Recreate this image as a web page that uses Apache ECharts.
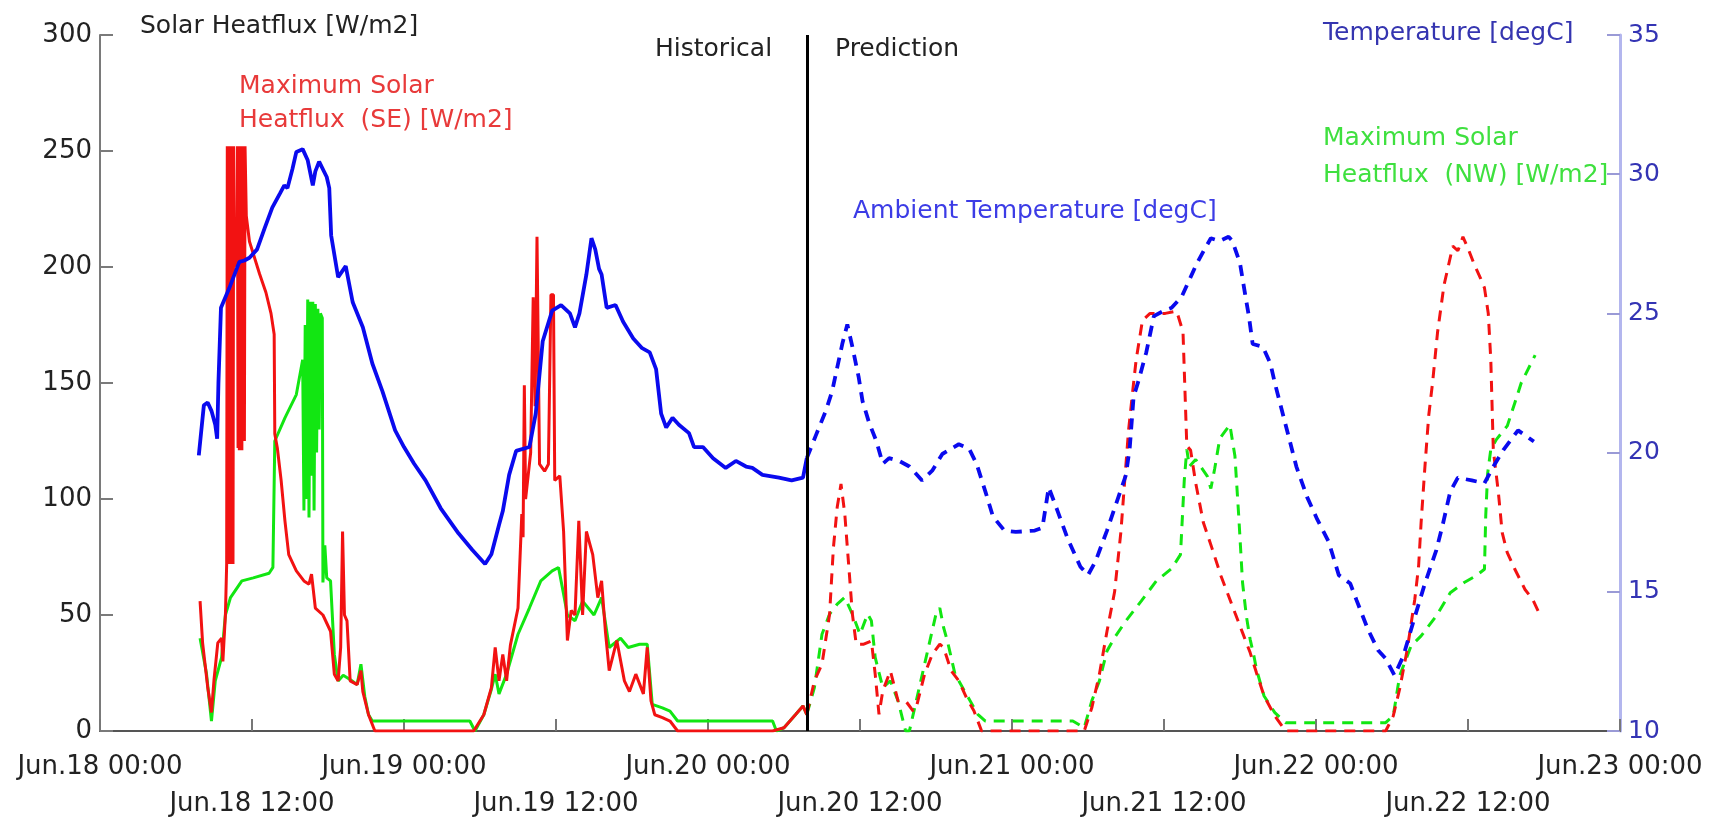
<!DOCTYPE html>
<html><head><meta charset="utf-8">
<script src="https://cdn.jsdelivr.net/npm/echarts/dist/echarts.min.js"></script>
<style>html,body{margin:0;padding:0;background:#fff}#chart{width:1713px;height:820px}</style>
</head><body><div id="chart"></div>
<script>
// x values: hours since Jun.18 00:00
const tickLabels = ['Jun.18 00:00','Jun.18 12:00','Jun.19 00:00','Jun.19 12:00','Jun.20 00:00','Jun.20 12:00','Jun.21 00:00','Jun.21 12:00','Jun.22 00:00','Jun.22 12:00','Jun.23 00:00'];
const tickStepHours = 12;
const boundaryHour = [55.8];

const tempHistorical = [[7.8,19.9],[8.2,21.7],[8.5,21.8],[8.8,21.5],[9.1,21.0],[9.25,20.5],[9.35,22.5],[9.55,25.2],[10.2,25.9],[11.0,26.85],[11.4,26.9],[11.8,27.0],[12.4,27.3],[13.0,28.06],[13.6,28.8],[14.2,29.3],[14.55,29.6],[14.8,29.5],[15.2,30.2],[15.5,30.8],[16.0,30.9],[16.4,30.5],[16.8,29.6],[17.0,30.1],[17.3,30.45],[17.9,29.9],[18.1,29.5],[18.25,27.8],[18.8,26.3],[19.1,26.5],[19.4,26.7],[19.95,25.4],[20.75,24.5],[21.5,23.2],[22.3,22.2],[23.3,20.8],[24.0,20.2],[24.8,19.6],[25.7,19.0],[26.9,18.0],[28.3,17.1],[29.4,16.5],[30.4,16.0],[30.9,16.35],[31.5,17.4],[31.8,17.9],[32.3,19.2],[32.85,20.06],[33.9,20.2],[34.4,21.4],[34.95,24.0],[35.7,25.1],[36.4,25.3],[37.1,25.0],[37.5,24.5],[37.85,25.0],[38.4,26.4],[38.8,27.7],[39.1,27.3],[39.4,26.6],[39.6,26.4],[40.0,25.2],[40.7,25.3],[41.3,24.7],[42.1,24.1],[42.8,23.75],[43.4,23.6],[43.9,23.0],[44.3,21.4],[44.7,20.9],[45.2,21.25],[45.7,21.0],[46.5,20.7],[46.9,20.2],[47.6,20.2],[48.4,19.8],[49.4,19.45],[50.2,19.7],[51.0,19.5],[51.5,19.45],[52.3,19.2],[53.6,19.1],[54.6,19.0],[55.5,19.1],[55.8,19.8]];

const tempPrediction = [[55.8,19.8],[56.5,20.6],[57.3,21.5],[57.8,22.2],[58.2,23.05],[58.6,23.9],[59.0,24.6],[59.4,23.8],[59.9,22.7],[60.2,21.85],[60.7,21.1],[61.3,20.4],[61.8,19.6],[62.3,19.8],[63.1,19.7],[63.9,19.5],[64.9,19.0],[65.7,19.35],[66.5,19.95],[67.8,20.3],[68.6,20.15],[69.2,19.6],[69.9,18.6],[70.5,17.7],[71.4,17.2],[72.3,17.15],[73.8,17.2],[74.4,17.3],[74.9,18.75],[75.6,17.9],[76.4,16.9],[77.4,15.9],[78.0,15.6],[78.6,16.1],[79.5,17.2],[80.1,18.0],[81.0,19.2],[81.3,20.2],[81.6,22.0],[82.0,22.6],[82.6,23.6],[83.2,24.9],[84.0,25.1],[84.6,25.2],[85.4,25.6],[86.0,26.2],[86.6,26.8],[87.2,27.3],[87.7,27.7],[88.4,27.6],[89.1,27.75],[89.4,27.6],[90.0,26.8],[90.4,25.7],[90.7,24.9],[91.0,23.9],[91.8,23.8],[92.4,23.2],[92.75,22.5],[93.6,21.0],[94.45,19.5],[95.3,18.4],[96.1,17.6],[97.0,16.8],[97.8,15.6],[98.7,15.3],[99.2,14.7],[100.1,13.65],[100.9,12.9],[101.5,12.6],[102.2,12.0],[102.9,12.7],[103.8,14.1],[104.6,15.3],[105.5,16.5],[106.0,17.4],[106.6,18.6],[107.2,19.1],[108.3,19.0],[109.3,18.9],[110.0,19.5],[110.8,20.1],[111.95,20.8],[113.2,20.4]];

const heatSEHistorical = [[7.9,56],[8.1,38],[8.5,19],[8.8,8],[9.0,22],[9.3,38],[9.6,40],[9.7,30],[9.9,50],[10.0,72],[10.05,252],[10.1,72],[10.15,252],[10.2,75],[10.25,252],[10.3,72],[10.35,252],[10.4,78],[10.45,252],[10.5,72],[10.55,252],[10.6,200],[10.8,205],[10.85,252],[10.9,122],[10.95,252],[11.0,121],[11.05,252],[11.1,125],[11.15,252],[11.2,121],[11.25,252],[11.3,130],[11.35,252],[11.4,125],[11.45,252],[11.55,222],[11.8,211],[12.6,197],[13.1,189],[13.5,180],[13.75,171],[13.8,128],[14.0,122],[14.3,108],[14.6,90.6],[14.9,76],[15.5,69],[16.1,64.7],[16.5,63.3],[16.7,67.6],[17.0,53],[17.6,50],[18.2,43],[18.5,24.5],[18.8,21.6],[19.0,36],[19.15,86],[19.3,50],[19.5,47.5],[19.75,21.6],[20.3,20],[20.6,26],[20.75,17],[21.2,7],[21.7,0],[29.5,0],[30.3,7],[30.9,18.7],[31.2,36],[31.5,21.6],[31.8,33],[32.1,21.6],[32.4,37],[33.0,53],[33.3,93.5],[33.4,83.5],[33.5,149],[33.6,100],[34.0,120],[34.2,187],[34.35,140],[34.5,213],[34.65,213],[34.7,115],[35.1,112],[35.4,115],[35.6,188],[35.8,188],[35.9,108],[36.3,110],[36.6,86],[36.9,39],[37.2,52],[37.5,50],[37.8,90.6],[38.1,50],[38.4,86],[38.9,76],[39.3,57.5],[39.6,64.7],[39.9,43],[40.2,26],[40.8,39],[41.4,21.6],[41.8,17],[42.3,24.5],[42.9,16],[43.2,36],[43.5,13],[43.8,7],[44.4,5.8],[45.0,4.3],[45.6,0],[53.1,0],[54.0,1.4],[54.9,7],[55.5,10.8],[55.8,7]];

const heatSEPrediction = [[55.8,7.2],[56.4,21.6],[57.0,28.8],[57.6,50.4],[57.9,79],[58.2,96.4],[58.5,106.5],[58.8,93.5],[59.1,72],[59.4,50.4],[59.7,37.4],[60.3,37.4],[60.9,38.8],[61.2,24.5],[61.5,7.2],[61.8,17.3],[62.4,25.9],[63.0,13],[63.6,13],[64.2,8.6],[64.5,11.5],[65.1,24.5],[65.7,33],[66.3,37.4],[66.6,36],[67.2,25.9],[67.8,21.6],[68.4,14.4],[69.0,8.6],[69.6,0],[77.7,0],[78.3,10],[78.9,24.5],[79.5,43],[80.1,60],[80.6,86],[80.9,108],[81.2,129.5],[81.5,145],[81.8,160],[82.3,177],[82.9,180],[84.1,180],[85.0,181],[85.5,172],[85.8,123],[86.1,121],[86.5,107],[87.1,90],[87.8,78.6],[88.5,66.8],[89.1,58.2],[89.6,51],[90.2,42.4],[90.8,33.8],[91.3,25.1],[91.9,15.1],[92.75,6.5],[93.6,0],[101.5,0],[102.1,6.5],[102.6,18],[103.2,35],[103.8,56.8],[104.1,71],[104.3,90],[104.6,114],[104.9,136],[105.2,150],[105.6,172],[106.1,192],[106.8,209],[107.2,207],[107.6,213],[108.0,208],[108.5,201],[109.0,195],[109.3,191],[109.6,180],[109.8,160],[110.0,121],[110.4,102.7],[110.7,85.5],[111.1,76.9],[111.7,69.7],[112.5,61],[113.1,56.8],[113.6,51]];

const heatNWHistorical = [[7.9,40],[8.4,25],[8.8,4.3],[9.1,21.6],[9.6,31.7],[9.9,50],[10.3,57.5],[11.2,64.7],[12.1,66],[13.35,68],[13.65,70.5],[13.8,125],[14.6,135],[15.5,145],[16.0,160],[16.1,95],[16.2,175],[16.3,100],[16.4,186],[16.5,92],[16.6,185],[16.7,110],[16.8,185],[16.9,95],[17.0,184],[17.1,120],[17.2,182],[17.3,130],[17.4,180],[17.55,178],[17.6,64],[17.75,80],[17.9,66],[18.2,64.7],[18.5,33],[18.8,21.6],[19.2,24],[19.8,22],[20.3,20],[20.6,28.8],[20.9,15],[21.2,7],[21.5,4.3],[29.2,4.3],[29.6,0],[30.3,7],[30.9,18],[31.2,24.5],[31.5,16],[32.1,24.5],[33.0,41.7],[33.9,53],[34.8,64.7],[35.7,69],[36.2,70.5],[36.6,59],[36.9,50],[37.5,47.5],[38.1,56],[39.0,50],[39.6,57.5],[40.2,36],[41.1,40],[41.7,36],[42.6,37.4],[43.2,37.4],[43.6,11.5],[44.4,10],[45.0,8.6],[45.6,4.3],[53.1,4.3],[53.4,0],[54.0,1.4],[54.9,7],[55.5,10.8],[55.8,7]];

const heatNWPrediction = [[55.8,7.2],[56.4,18.7],[57.0,41.7],[57.6,50.4],[58.2,54.7],[58.8,57.6],[59.4,50.4],[60.0,41.7],[60.6,50.4],[60.9,47.5],[61.2,31.7],[61.8,18.7],[62.4,21.6],[63.0,13],[63.6,0],[63.9,0],[64.8,21.6],[65.4,36],[66.0,50.4],[66.3,53],[66.6,44.6],[66.9,38.8],[67.5,24.5],[68.4,15.8],[69.3,7.2],[69.9,4.3],[76.8,4.3],[77.7,1.4],[78.3,13],[78.9,21.6],[79.5,34.5],[80.1,40.3],[81.0,47.5],[82.2,56],[83.4,64.7],[84.6,70],[85.3,76],[85.6,108],[85.8,121.4],[86.0,114],[86.5,117],[87.4,110],[87.7,104.5],[88.0,113],[88.4,126],[88.8,129],[89.2,132],[89.6,118.5],[89.9,92.7],[90.2,64],[90.5,49.6],[90.8,39.5],[91.1,32.3],[91.3,26.6],[91.9,15.1],[92.75,7.9],[93.6,3.6],[101.5,3.6],[102.1,6.5],[102.6,23.7],[103.5,36.6],[104.3,41],[105.5,49.6],[106.6,59.6],[107.7,64],[108.6,66.8],[109.3,69.7],[109.4,92.7],[109.55,111],[109.8,121.4],[110.25,125.7],[111.1,131.5],[111.7,141.5],[112.2,150],[113.3,162]];

const FONT = '"DejaVu Sans", sans-serif';
const BLUE = '#0a0aee', RED = '#f21212', GREEN = '#12e612';
const DASH = [11, 8];

const chart = echarts.init(document.getElementById('chart'), null, {renderer: 'canvas'});
const xBase = {
  type: 'value', min: 0, max: tickStepHours * (tickLabels.length - 1), interval: tickStepHours,
  position: 'bottom', splitLine: {show: false}
};
function lineSeries(data, color, width, dashed, yIdx, extra) {
  return Object.assign({
    type: 'line', data: data, yAxisIndex: yIdx, xAxisIndex: 0,
    showSymbol: false, symbol: 'none', animation: false,
    lineStyle: {color: color, width: width, type: dashed ? DASH : 'solid'},
    itemStyle: {color: color}
  }, extra || {});
}
chart.setOption({
  animation: false,
  backgroundColor: '#ffffff',
  grid: {left: 100, right: 93, top: 35, bottom: 89, containLabel: false},
  xAxis: [
    Object.assign({}, xBase, {
      axisLine: {show: true, onZero: false, lineStyle: {color: '#555', width: 2}},
      axisTick: {show: true, inside: true, length: 12, lineStyle: {color: '#777', width: 2}},
      axisLabel: {show: true, showMinLabel: true, showMaxLabel: true, margin: 23, fontSize: 26, fontFamily: FONT, color: '#222',
        formatter: v => { const i = Math.round(v / tickStepHours); return i % 2 === 0 ? tickLabels[i] : ''; }}
    }),
    Object.assign({}, xBase, {
      axisLine: {show: false, onZero: false}, axisTick: {show: false},
      axisLabel: {show: true, showMinLabel: true, showMaxLabel: true, margin: 60, fontSize: 26, fontFamily: FONT, color: '#222',
        formatter: v => { const i = Math.round(v / tickStepHours); return i % 2 === 1 ? tickLabels[i] : ''; }}
    })
  ],
  yAxis: [
    {type: 'value', position: 'left', min: 0, max: 300, interval: 50,
     axisLine: {show: true, onZero: false, lineStyle: {color: '#7a7a7a', width: 2}},
     axisTick: {show: true, inside: true, length: 13, lineStyle: {color: '#7a7a7a', width: 2}},
     axisLabel: {margin: 8, fontSize: 26, fontFamily: FONT, color: '#222'},
     splitLine: {show: false}},
    {type: 'value', position: 'right', min: 10, max: 35, interval: 5,
     axisLine: {show: true, onZero: false, lineStyle: {color: '#b3b6ee', width: 3}},
     axisTick: {show: true, inside: true, length: 13, lineStyle: {color: '#9a9ad6', width: 2}},
     axisLabel: {margin: 8, fontSize: 25, fontFamily: FONT, color: '#3434b4'},
     splitLine: {show: false}}
  ],
  series: [
    lineSeries(heatNWHistorical, GREEN, 3, false, 0),
    lineSeries(heatNWPrediction, GREEN, 3, true, 0),
    lineSeries(heatSEHistorical, RED, 3, false, 0, {
      markLine: {silent: true, symbol: 'none', animation: false, label: {show: false},
        lineStyle: {color: '#000', width: 3, type: 'solid'},
        data: boundaryHour.map(h => ({xAxis: h}))}
    }),
    lineSeries(heatSEPrediction, RED, 3, true, 0),
    lineSeries(tempHistorical, BLUE, 3.8, false, 1),
    lineSeries(tempPrediction, BLUE, 3.8, true, 1)
  ],
  graphic: [
    {type: 'text', left: 140, top: 14, style: {text: 'Solar Heatflux [W/m2]', font: '25px ' + FONT, fill: '#222'}},
    {type: 'text', left: 239, top: 69, style: {text: 'Maximum Solar\nHeatflux  (SE) [W/m2]', font: '25px ' + FONT, fill: '#e83a3a', lineHeight: 34}},
    {type: 'text', left: 655, top: 37, style: {text: 'Historical', font: '25px ' + FONT, fill: '#222'}},
    {type: 'text', left: 835, top: 37, style: {text: 'Prediction', font: '25px ' + FONT, fill: '#222'}},
    {type: 'text', left: 853, top: 199, style: {text: 'Ambient Temperature [degC]', font: '25px ' + FONT, fill: '#3c3ce6'}},
    {type: 'text', left: 1323, top: 21, style: {text: 'Temperature [degC]', font: '25px ' + FONT, fill: '#3535b0'}},
    {type: 'text', left: 1323, top: 120, style: {text: 'Maximum Solar\nHeatflux  (NW) [W/m2]', font: '25px ' + FONT, fill: '#3fe03f', lineHeight: 37}}
  ]
});
</script>
</body></html>
